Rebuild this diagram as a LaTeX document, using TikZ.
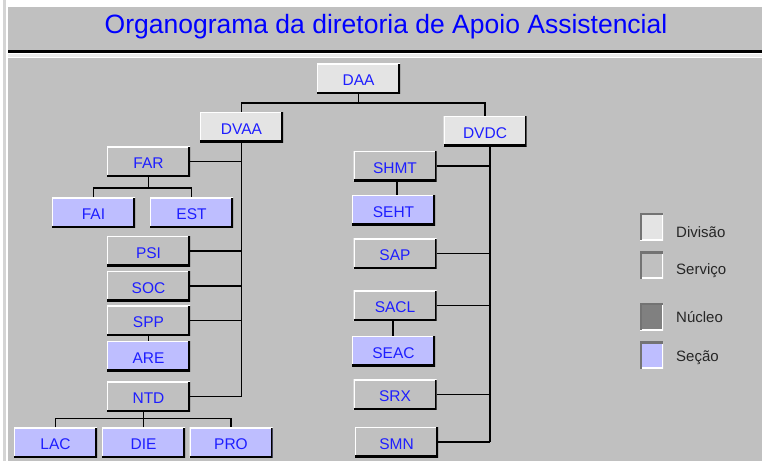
\documentclass[tikz,border=0pt]{standalone}
\usepackage{fontspec}
\setmainfont{Liberation Sans}
\definecolor{panel}{HTML}{C0C0C0}
\definecolor{divfill}{HTML}{E4E4E4}
\definecolor{secfill}{HTML}{BEBEFF}
\definecolor{nucfill}{HTML}{808080}
\definecolor{txtblue}{HTML}{1E1EFF}
\begin{document}
\begin{tikzpicture}[x=1pt,y=-1pt,
	box/.style={minimum width=83,minimum height=30,inner sep=0,text=txtblue,
		text height=14,text depth=0,
		font=\fontsize{15.5}{18}\selectfont,
		path picture={
			\draw[white,line width=2] (path picture bounding box.south west) |- (path picture bounding box.north east);
			\draw[black,line width=4] (path picture bounding box.south west) -| (path picture bounding box.north east);}},
	divbox/.style={box,fill=divfill},
	srvbox/.style={box,fill=panel},
	secbox/.style={box,fill=secfill},
	keybox/.style={minimum width=23,minimum height=27,inner sep=0,
		path picture={
			\draw[white,line width=3] (path picture bounding box.south west) -| (path picture bounding box.north east);
			\draw[black!55,line width=4] (path picture bounding box.south west) |- (path picture bounding box.north east);}},
	keytext/.style={anchor=west,inner sep=0,text=black!85,font=\fontsize{15}{18}\selectfont},
	link/.style={black,line width=1.6}]
		\useasboundingbox (0,0) rectangle (762,461);
		\fill[white] (0,0) rectangle (762,461);
		\fill[black!17] (3,0) rectangle (6,461);
		\fill[panel] (8,7) rectangle (762,50);
		\fill[black] (8,50) rectangle (762,53);
		\fill[black!8] (8,54) rectangle (762,57);
		\fill[panel] (8,58) rectangle (762,461);
		\node[text=blue,font=\fontsize{26.5}{30}\selectfont] (title) at (386,27) {Organograma da diretoria de Apoio Assistencial};
		\node[divbox] (DAA) at (358.5,78.5) {DAA};
		\node[divbox] (DVAA) at (241.5,127) {DVAA};
		\node[divbox] (DVDC) at (485,131) {DVDC};
		\node[srvbox] (FAR) at (148.5,161.5) {FAR};
		\node[secbox] (FAI) at (93.5,212.5) {FAI};
		\node[secbox] (EST) at (191.5,212.5) {EST};
		\node[srvbox] (PSI) at (148.5,251) {PSI};
		\node[srvbox] (SOC) at (148.5,286) {SOC};
		\node[srvbox] (SPP) at (148.5,320.5) {SPP};
		\node[secbox] (ARE) at (148.5,356) {ARE};
		\node[srvbox] (NTD) at (148.5,396.5) {NTD};
		\node[secbox] (LAC) at (55.5,442.5) {LAC};
		\node[secbox] (DIE) at (143.5,442.5) {DIE};
		\node[secbox] (PRO) at (231,442.5) {PRO};
		\node[srvbox] (SHMT) at (395,166) {SHMT};
		\node[secbox] (SEHT) at (393.5,210) {SEHT};
		\node[srvbox] (SAP) at (395,253.5) {SAP};
		\node[srvbox] (SACL) at (395,305.5) {SACL};
		\node[secbox] (SEAC) at (393.5,351) {SEAC};
		\node[srvbox] (SRX) at (395,394.5) {SRX};
		\node[srvbox] (SMN) at (396.5,442) {SMN};
		\draw[link] (DAA.south) -- ++(0,9) coordinate (top);
		\draw[link] (DVAA.north) |- (top) -| (DVDC.north);
		\draw[link] (DVAA.south) -- (NTD.east -| DVAA.south);
		\foreach \n in {FAR,PSI,SOC,SPP,NTD}
			\draw[link] (\n.east) -- (\n.east -| DVAA.south);
		\draw[link] (FAR.south) -- ++(0,11) coordinate (farj);
		\draw[link] (FAI.north) |- (farj) -| (EST.north);
		\draw[link] (SPP.south) -- (ARE.north);
		\draw[link] (DIE.north) -- (DIE.north |- NTD.south);
		\draw[link] (LAC.north) -- ++(0,-9) -| (PRO.north);
		\coordinate (dvdcs) at ([xshift=5]DVDC.south);
		\draw[link] (dvdcs) -- (SMN.east -| dvdcs);
		\foreach \n in {SHMT,SAP,SACL,SRX,SMN}
			\draw[link] (\n.east) -- (\n.east -| dvdcs);
		\draw[link] ([xshift=2]SHMT.south) -- ([xshift=2]SHMT.south |- SEHT.north);
		\draw[link] ([xshift=-2]SACL.south) -- ([xshift=-2]SACL.south |- SEAC.north);
		\node[keybox,fill=divfill] (kdiv) at (651.5,226.5) {};
		\node[keybox,fill=panel] (ksrv) at (651.5,265) {};
		\node[keybox,fill=nucfill] (knuc) at (651.5,316.5) {};
		\node[keybox,fill=secfill] (ksec) at (651.5,355) {};
		\node[keytext] (tdiv) at (676,232) {Divisão};
		\node[keytext] (tsrv) at (676,271) {Serviço};
		\node[keytext] (tnuc) at (676,317) {Núcleo};
		\node[keytext] (tsec) at (676,358) {Seção};
	\end{tikzpicture}
\end{document}
